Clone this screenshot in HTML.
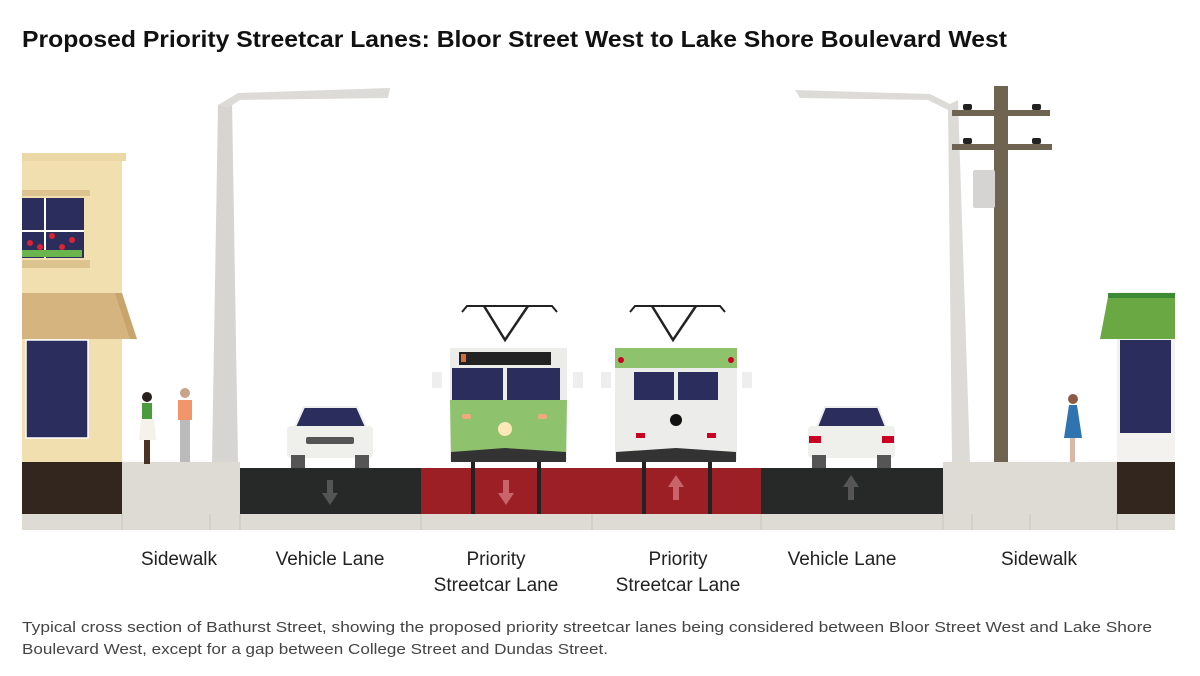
<!DOCTYPE html>
<html><head><meta charset="utf-8"><style>
html,body{margin:0;padding:0;background:#fff;width:1200px;height:676px;overflow:hidden}
svg{display:block}
text{font-family:"Liberation Sans",sans-serif}
</style></head><body>
<svg width="1200" height="676" viewBox="0 0 1200 676" xmlns="http://www.w3.org/2000/svg">
<text x="22" y="47" font-size="23" font-weight="bold" fill="#111" textLength="985" lengthAdjust="spacingAndGlyphs">Proposed Priority Streetcar Lanes: Bloor Street West to Lake Shore Boulevard West</text>

<!-- left building -->
<rect x="22" y="160" width="100" height="302" fill="#f1dfb0"/>
<rect x="22" y="153" width="104" height="8" fill="#ecd7a6"/>
<rect x="22" y="190" width="68" height="6" fill="#ddc38f"/>
<rect x="22" y="198" width="62" height="60" fill="#2b2d5c"/>
<line x1="45" y1="198" x2="45" y2="258" stroke="#fff" stroke-width="2"/>
<line x1="22" y1="231" x2="84" y2="231" stroke="#fff" stroke-width="2"/>
<rect x="22" y="250" width="60" height="7" fill="#6bb54e"/>
<circle cx="30" cy="243" r="3" fill="#d23"/><circle cx="40" cy="247" r="3" fill="#d23"/><circle cx="52" cy="236" r="3" fill="#d23"/><circle cx="62" cy="247" r="3" fill="#d23"/><circle cx="72" cy="240" r="3" fill="#d23"/>
<rect x="22" y="260" width="68" height="8" fill="#ddc38f"/>
<polygon points="22,293 115,293 137,339 22,339" fill="#d6b47f"/>
<polygon points="115,293 122,293 137,339 130,339" fill="#c9a56d"/>
<rect x="26" y="340" width="62" height="98" fill="#2b2d5c" stroke="#fff" stroke-width="1.5"/>
<rect x="22" y="462" width="100" height="52" fill="#33261f"/>

<!-- right building -->
<rect x="1117" y="292" width="58" height="170" fill="#f4f2ee"/>
<polygon points="1108,297 1175,297 1175,339 1100,339" fill="#6aa843"/>
<rect x="1108" y="293" width="67" height="5" fill="#3c8a34"/>
<rect x="1120" y="340" width="51" height="93" fill="#2b2d5c"/>
<rect x="1117" y="462" width="58" height="52" fill="#33261f"/>

<!-- ground -->
<rect x="22" y="514" width="1153" height="16" fill="#dedbd5"/>
<rect x="122" y="462" width="118" height="68" fill="#dedbd5"/>
<rect x="943" y="462" width="174" height="68" fill="#dedbd5"/>
<rect x="240" y="468" width="181" height="46" fill="#262927"/>
<rect x="421" y="468" width="340" height="46" fill="#9b1f24"/>
<rect x="761" y="468" width="182" height="46" fill="#262927"/>
<g stroke="#c8c5bf" stroke-width="1">
<line x1="122" y1="514" x2="122" y2="530"/><line x1="210" y1="514" x2="210" y2="530"/><line x1="240" y1="514" x2="240" y2="530"/><line x1="421" y1="514" x2="421" y2="530"/><line x1="592" y1="514" x2="592" y2="530"/><line x1="761" y1="514" x2="761" y2="530"/><line x1="943" y1="514" x2="943" y2="530"/><line x1="972" y1="514" x2="972" y2="530"/><line x1="1030" y1="514" x2="1030" y2="530"/><line x1="1117" y1="514" x2="1117" y2="530"/>
</g>
<!-- arrows -->
<g fill="#555">
<rect x="327" y="480" width="6" height="14"/><polygon points="322,493 338,493 330,505"/>
<rect x="848" y="486" width="6" height="14"/><polygon points="843,487 859,487 851,475"/>
</g>
<g fill="#c9646a">
<rect x="503" y="480" width="6" height="14"/><polygon points="498,493 514,493 506,505"/>
<rect x="673" y="486" width="6" height="14"/><polygon points="668,487 684,487 676,475"/>
</g>

<!-- lamps -->
<polygon points="218,105 232,100 238,462 212,462" fill="#d6d5d2"/>
<polygon points="218,105 238,93 390,88 388,98 240,100 228,108" fill="#dcdbd8"/>
<polygon points="948,105 958,100 970,462 952,462" fill="#dcdbd8"/>
<polygon points="795,90 930,94 958,108 948,110 928,100 800,98" fill="#dcdbd8"/>

<!-- utility pole -->
<rect x="994" y="86" width="14" height="376" fill="#6f6451"/>
<rect x="952" y="110" width="98" height="6" fill="#6f6451"/>
<rect x="952" y="144" width="100" height="6" fill="#6f6451"/>
<rect x="963" y="104" width="9" height="6" rx="2" fill="#222"/><rect x="1032" y="104" width="9" height="6" rx="2" fill="#222"/>
<rect x="963" y="138" width="9" height="6" rx="2" fill="#222"/><rect x="1032" y="138" width="9" height="6" rx="2" fill="#222"/>
<rect x="973" y="170" width="22" height="38" rx="2" fill="#d5d4d2"/>

<!-- pedestrians -->
<circle cx="147" cy="397" r="5" fill="#2a211c"/>
<rect x="142" y="403" width="10" height="16" fill="#4a9b3c"/>
<polygon points="141,419 154,419 156,440 139,440" fill="#f4f2ea"/>
<rect x="144" y="440" width="6" height="24" fill="#4a3325"/>
<circle cx="185" cy="393" r="5" fill="#c8a48a"/>
<rect x="178" y="400" width="14" height="20" fill="#f2956a"/>
<rect x="180" y="420" width="10" height="42" fill="#bbb"/>
<circle cx="1073" cy="399" r="5" fill="#8a5a44"/>
<polygon points="1069,405 1077,405 1082,438 1064,438" fill="#2f73b0"/>
<rect x="1070" y="438" width="5" height="24" fill="#d8b8a6"/>

<!-- cars -->
<g>
<polygon points="304,407 357,407 366,427 295,427" fill="#2b2d5c" stroke="#eee" stroke-width="2"/>
<rect x="287" y="426" width="86" height="32" rx="4" fill="#efefeb"/>
<rect x="306" y="437" width="48" height="7" rx="2" fill="#555"/>
<rect x="291" y="455" width="14" height="13" fill="#555"/><rect x="355" y="455" width="14" height="13" fill="#555"/>
</g>
<g>
<polygon points="825,407 878,407 886,427 817,427" fill="#2b2d5c" stroke="#eee" stroke-width="2"/>
<rect x="808" y="426" width="87" height="32" rx="4" fill="#efefeb"/>
<rect x="809" y="436" width="12" height="7" fill="#c02"/><rect x="882" y="436" width="12" height="7" fill="#c02"/>
<rect x="812" y="455" width="14" height="13" fill="#555"/><rect x="877" y="455" width="14" height="13" fill="#555"/>
</g>

<!-- tram left -->
<g>
<polyline points="462,312 467,306 552,306 557,312" fill="none" stroke="#222" stroke-width="2"/>
<polyline points="484,306 505,340 528,306" fill="none" stroke="#222" stroke-width="2.5"/>
<polygon points="450,348 567,348 567,460 450,460" fill="#ececea"/>
<rect x="459" y="352" width="92" height="13" fill="#222"/>
<rect x="461" y="354" width="5" height="8" fill="#d46d3a"/>
<polygon points="452,368 503,368 503,400 452,400" fill="#2b2d5c"/>
<polygon points="507,368 560,368 560,400 507,400" fill="#2b2d5c"/>
<polygon points="450,400 567,400 566,452 451,452" fill="#8ec26d"/>
<rect x="462" y="414" width="9" height="5" rx="2" fill="#f0a97c"/><rect x="538" y="414" width="9" height="5" rx="2" fill="#f0a97c"/>
<circle cx="505" cy="429" r="7" fill="#fbe7b8"/>
<polygon points="451,452 505,448 566,452 566,462 451,462" fill="#333"/>
<rect x="432" y="372" width="10" height="16" fill="#eee"/><rect x="573" y="372" width="10" height="16" fill="#eee"/>
<rect x="471" y="462" width="4" height="52" fill="#222"/><rect x="537" y="462" width="4" height="52" fill="#222"/>
</g>
<!-- tram right -->
<g>
<polyline points="630,312 635,306 720,306 725,312" fill="none" stroke="#222" stroke-width="2"/>
<polyline points="652,306 673,340 696,306" fill="none" stroke="#222" stroke-width="2.5"/>
<polygon points="615,348 737,348 737,460 615,460" fill="#ececea"/>
<polygon points="615,348 737,348 737,368 615,368" fill="#8ec26d"/>
<circle cx="621" cy="360" r="3" fill="#c02"/><circle cx="731" cy="360" r="3" fill="#c02"/>
<polygon points="634,372 674,372 674,400 634,400" fill="#2b2d5c"/>
<polygon points="678,372 718,372 718,400 678,400" fill="#2b2d5c"/>
<circle cx="676" cy="420" r="6" fill="#111"/>
<rect x="636" y="433" width="9" height="5" fill="#c02"/><rect x="707" y="433" width="9" height="5" fill="#c02"/>
<polygon points="616,452 676,448 736,452 736,462 616,462" fill="#333"/>
<rect x="601" y="372" width="10" height="16" fill="#eee"/><rect x="742" y="372" width="10" height="16" fill="#eee"/>
<rect x="642" y="462" width="4" height="52" fill="#222"/><rect x="708" y="462" width="4" height="52" fill="#222"/>
</g>

<!-- labels -->
<g font-size="19" fill="#222" text-anchor="middle">
<text x="179" y="565">Sidewalk</text>
<text x="330" y="565">Vehicle Lane</text>
<text x="496" y="565">Priority</text>
<text x="496" y="591">Streetcar Lane</text>
<text x="678" y="565">Priority</text>
<text x="678" y="591">Streetcar Lane</text>
<text x="842" y="565">Vehicle Lane</text>
<text x="1039" y="565">Sidewalk</text>
</g>
<text x="22" y="632" font-size="15" fill="#444" textLength="1130" lengthAdjust="spacingAndGlyphs">Typical cross section of Bathurst Street, showing the proposed priority streetcar lanes being considered between Bloor Street West and Lake Shore</text>
<text x="22" y="654" font-size="15" fill="#444" textLength="586" lengthAdjust="spacingAndGlyphs">Boulevard West, except for a gap between College Street and Dundas Street.</text>
</svg>
</body></html>
